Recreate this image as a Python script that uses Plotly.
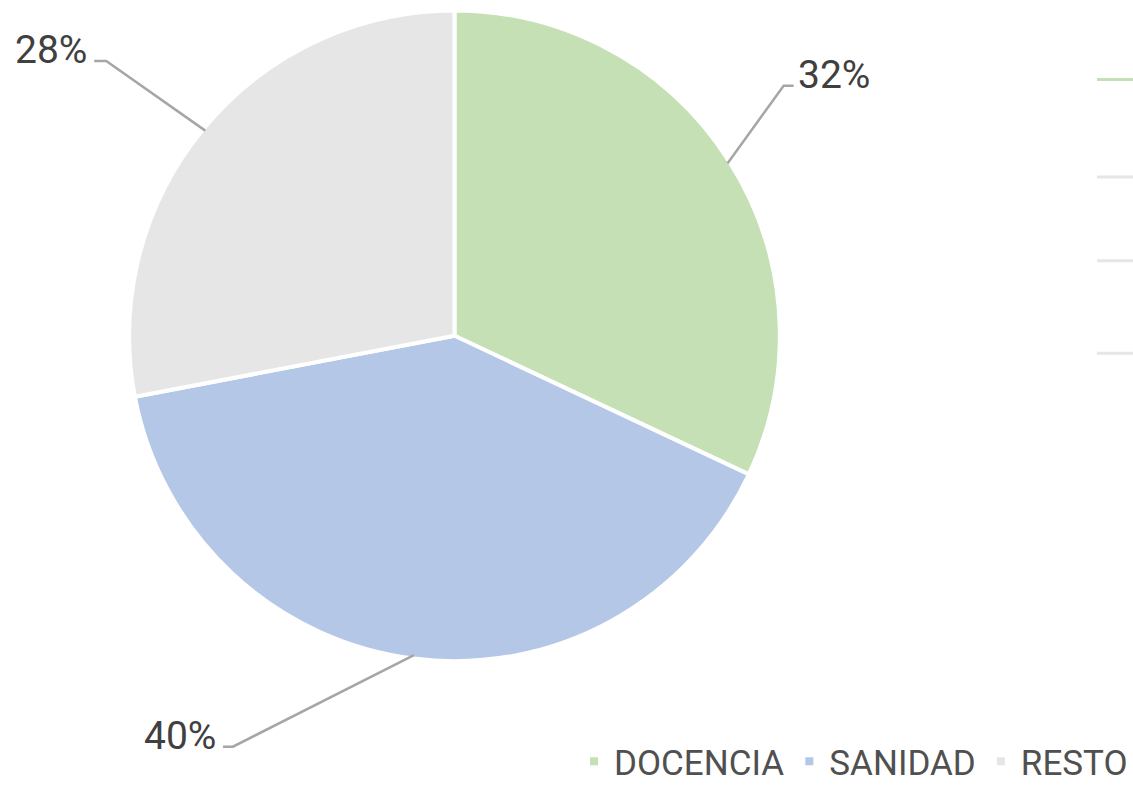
import math
import plotly.graph_objects as go

categories = ["DOCENCIA", "SANIDAD", "RESTO"]
values = [32, 40, 28]
colors = ["#C5E0B4", "#B4C7E7", "#E7E6E6"]
pct_labels = ["32%", "40%", "28%"]

W, H = 1133, 791
CX, CY, R = 454.5, 337.5, 323.5   # pie centre / radius in pixels (layout)
R_DOM = R + 3.5                    # compensate for slice border width

def px(x):
    return x / W

def py(y):
    return 1 - y / H

fig = go.Figure()
fig.add_trace(go.Pie(
    labels=categories, values=values, sort=False, direction="clockwise", rotation=0,
    marker=dict(colors=colors, line=dict(color="white", width=4)),
    textinfo="none", hoverinfo="label+percent",
    domain=dict(x=[px(CX - R_DOM), px(CX + R_DOM)], y=[py(CY + R_DOM), py(CY - R_DOM)]),
))

# leader line styling (elbow offsets relative to pie edge point, text offset)
elbow = {0: (56, -78, 10), 1: (-181, 92, -10), 2: (-99, -70, -12)}
shapes = []
annotations = []
total = sum(values)
cum = 0
for i, v in enumerate(values):
    mid = (cum + v / 2) / total * 2 * math.pi
    cum += v
    sx = CX + R * math.sin(mid)
    sy = CY - R * math.cos(mid)
    dx, dy, hx = elbow[i]
    ex, ey = sx + dx, sy + dy
    hx2 = ex + hx
    shapes.append(dict(type="path", xref="paper", yref="paper",
                       path=f"M {px(sx)},{py(sy)} L {px(ex)},{py(ey)} L {px(hx2)},{py(ey)}",
                       line=dict(color="#A6A6A6", width=2.5)))
    right = hx > 0
    annotations.append(dict(x=px(hx2 + (2 if right else -5)), y=py(ey - 11), xref="paper", yref="paper",
                            text=pct_labels[i], showarrow=False,
                            xanchor="left" if right else "right", yanchor="middle",
                            font=dict(size=39, color="#404040", family="Roboto")))

# small line fragments at right edge
for yy, c in [(80, "#C5E0B4"), (178, "#E7E6E6"), (262, "#E7E6E6"), (355, "#E7E6E6")]:
    shapes.append(dict(type="line", xref="paper", yref="paper",
                       x0=px(1097), x1=1, y0=py(yy), y1=py(yy), line=dict(color=c, width=3)))

fig.update_layout(
    width=W, height=H, margin=dict(l=0, r=0, t=0, b=0),
    paper_bgcolor="white", plot_bgcolor="white",
    showlegend=True,
    legend=dict(orientation="h", x=1.0, xanchor="right", y=-0.005, yanchor="bottom",
                font=dict(size=35, color="#505050", family="Roboto"),
                itemwidth=30, tracegroupgap=0),
    shapes=shapes, annotations=annotations,
)

fig.write_html("out.html")
